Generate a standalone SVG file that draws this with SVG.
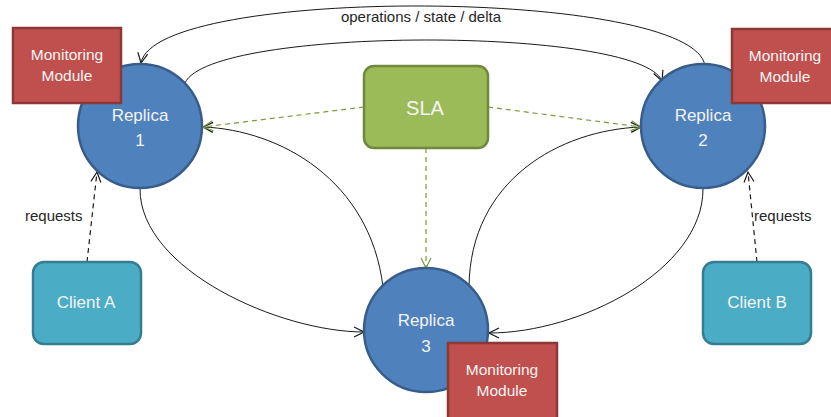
<svg xmlns="http://www.w3.org/2000/svg" width="831" height="417" viewBox="0 0 831 417">
<style>
.rep{fill:#4F81BD;stroke:#385D8A;stroke-width:2.5}
.mon{fill:#C0504D;stroke:#8C3836;stroke-width:2.5}
.sla{fill:#9BBB59;stroke:#71893F;stroke-width:2.5}
.cli{fill:#4BACC6;stroke:#357D91;stroke-width:2.5}
.t{font-family:"Liberation Sans",Arial,sans-serif;fill:#F4F4F4;text-anchor:middle}
.lbl{font-family:"Liberation Sans",Arial,sans-serif;fill:#262626;font-size:15px}
.c{fill:none;stroke:#1a1a1a;stroke-width:1}
.g{fill:none;stroke:#7A9A3A;stroke-width:1.2;stroke-dasharray:5,4}
.d{fill:none;stroke:#1a1a1a;stroke-width:1.2;stroke-dasharray:5,4}
</style>
<defs>
<marker id="ab" viewBox="0 0 12 12" refX="11" refY="6" markerWidth="12" markerHeight="12" markerUnits="userSpaceOnUse" orient="auto">
<path d="M1,1 L11,6 L1,11" fill="none" stroke="#1a1a1a" stroke-width="1.2"/>
</marker>
<marker id="ag" viewBox="0 0 12 12" refX="11" refY="6" markerWidth="12" markerHeight="12" markerUnits="userSpaceOnUse" orient="auto">
<path d="M1,1 L11,6 L1,11" fill="none" stroke="#7A9A3A" stroke-width="1.2"/>
</marker>
</defs>
<rect width="831" height="417" fill="#FFFFFF"/>
<g id="connectors">
<path class="c" d="M705,66 C695,-12 155,-15 141,63" marker-end="url(#ab)"/>
<path class="c" d="M185,83 C210,26 640,26 662,81" marker-end="url(#ab)"/>
<path class="c" d="M383,287 C370,180 280,130 203,127" marker-end="url(#ab)"/>
<path class="c" d="M140,189 C140,270 280,332 364,332" marker-end="url(#ab)"/>
<path class="c" d="M469,287 C470,180 560,130 641,127" marker-end="url(#ab)"/>
<path class="c" d="M703,189 C703,270 580,333 489,333" marker-end="url(#ab)"/>
<path class="g" d="M364,107 L203,127" marker-end="url(#ag)"/>
<path class="g" d="M488,107 L641,127" marker-end="url(#ag)"/>
<path class="g" d="M426,148 L426,268" marker-end="url(#ag)"/>
<path class="d" d="M87,262 L97,172" marker-end="url(#ab)"/>
<path class="d" d="M757,262 L748,172" marker-end="url(#ab)"/>
<text class="lbl" x="421" y="22" text-anchor="middle">operations / state / delta</text>
<text class="lbl" x="25" y="221">requests</text>
<text class="lbl" x="754" y="221">requests</text>
</g>
<g id="replica1">
<circle class="rep" cx="140" cy="126" r="62"/>
<text class="t" x="140" y="121" font-size="17">Replica</text>
<text class="t" x="140" y="146" font-size="17">1</text>
</g>
<g id="replica2">
<circle class="rep" cx="703" cy="126" r="62"/>
<text class="t" x="703" y="121" font-size="17">Replica</text>
<text class="t" x="703" y="146" font-size="17">2</text>
</g>
<g id="replica3">
<circle class="rep" cx="426" cy="330" r="62"/>
<text class="t" x="426" y="326" font-size="17">Replica</text>
<text class="t" x="426" y="352" font-size="17">3</text>
</g>
<g id="monitor1">
<rect class="mon" x="13" y="28" width="108" height="75"/>
<text class="t" x="67" y="60" font-size="15.5">Monitoring</text>
<text class="t" x="67" y="81" font-size="15.5">Module</text>
</g>
<g id="monitor2">
<rect class="mon" x="732" y="29" width="108" height="74"/>
<text class="t" x="785" y="61" font-size="15.5">Monitoring</text>
<text class="t" x="785" y="82" font-size="15.5">Module</text>
</g>
<g id="monitor3">
<rect class="mon" x="448" y="343" width="109" height="76"/>
<text class="t" x="502" y="375" font-size="15.5">Monitoring</text>
<text class="t" x="502" y="396" font-size="15.5">Module</text>
</g>
<g id="sla">
<rect class="sla" x="364" y="66" width="124" height="82" rx="10"/>
<text class="t" x="425" y="115" font-size="20">SLA</text>
</g>
<g id="clientA">
<rect class="cli" x="33" y="262" width="108" height="82" rx="11"/>
<text class="t" x="86" y="308" font-size="17">Client A</text>
</g>
<g id="clientB">
<rect class="cli" x="703" y="262" width="108" height="82" rx="11"/>
<text class="t" x="757" y="308" font-size="17">Client B</text>
</g>
</svg>
